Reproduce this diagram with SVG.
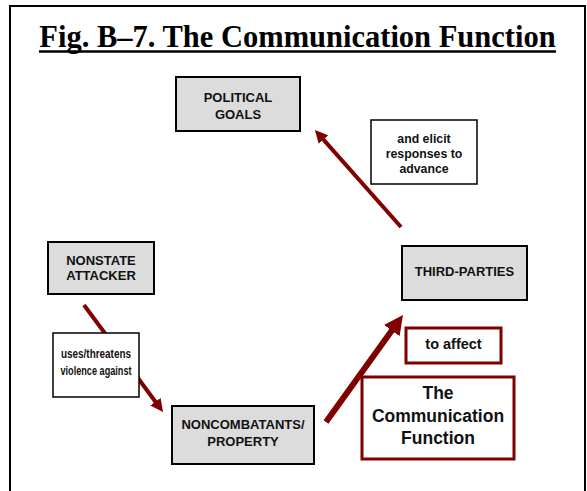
<svg xmlns="http://www.w3.org/2000/svg" width="587" height="491" viewBox="0 0 587 491">
<style>
.title{font-family:"Liberation Serif","Times New Roman",serif;font-weight:bold;font-size:30.5px;fill:#000}
.t{font-family:"Liberation Sans",Arial,sans-serif;font-weight:bold;font-size:13px;fill:#111;text-anchor:middle}
.lbl{font-family:"Liberation Sans",Arial,sans-serif;font-weight:bold;font-size:12.3px;fill:#111;text-anchor:middle}
.big{font-family:"Liberation Sans",Arial,sans-serif;font-weight:bold;font-size:17.5px;fill:#111;text-anchor:middle}
.node{fill:#dcdcdc;stroke:#000;stroke-width:2}
.lab{fill:#fff;stroke:#000;stroke-width:1.5}
.red{fill:#fff;stroke:#800000;stroke-width:3}
.conn{stroke:#800000;fill:none}
</style>
<defs>
<marker id="ah" viewBox="0 0 10 10" refX="1" refY="5" markerWidth="3.2" markerHeight="3.2" orient="auto">
<path d="M0,0 L10,5 L0,10 z" fill="#800000"/>
</marker>
</defs>
<rect x="0" y="0" width="587" height="491" fill="#fff"/>
<rect x="10" y="6" width="575" height="500" fill="none" stroke="#000" stroke-width="2"/>
<g id="title">
<text class="title" x="297.5" y="47" text-anchor="middle">Fig. B–7. The Communication Function</text>
<line x1="39" y1="51.5" x2="556" y2="51.5" stroke="#000" stroke-width="2.5"/>
</g>
<g id="connectors">
<line class="conn" x1="401" y1="227" x2="322.6" y2="138.6" stroke-width="4" marker-end="url(#ah)"/>
<line class="conn" x1="84" y1="305" x2="156.2" y2="402.7" stroke-width="4" marker-end="url(#ah)"/>
<line class="conn" x1="326" y1="422" x2="392.9" y2="329" stroke-width="6" marker-end="url(#ah)"/>
</g>
<g id="political-goals">
<rect class="node" x="176" y="77" width="124" height="54"/>
<text class="t" x="238" y="102">POLITICAL</text>
<text class="t" x="238" y="119">GOALS</text>
</g>
<g id="label-elicit">
<rect class="lab" x="371" y="120" width="106" height="64"/>
<text class="lbl" x="424" y="143">and elicit</text>
<text class="lbl" x="424" y="158">responses to</text>
<text class="lbl" x="424" y="173">advance</text>
</g>
<g id="nonstate-attacker">
<rect class="node" x="48" y="242" width="106" height="52"/>
<text class="t" x="101" y="265">NONSTATE</text>
<text class="t" x="101" y="280">ATTACKER</text>
</g>
<g id="third-parties">
<rect class="node" x="402" y="246" width="125" height="54"/>
<text class="t" x="464.5" y="276">THIRD-PARTIES</text>
</g>
<g id="label-uses">
<rect class="lab" x="53" y="333" width="86" height="64"/>
<text class="lbl" x="96" y="358" style="font-size:13px" textLength="70" lengthAdjust="spacingAndGlyphs">uses/threatens</text>
<text class="lbl" x="96" y="375" style="font-size:13px" textLength="71" lengthAdjust="spacingAndGlyphs">violence against</text>
</g>
<g id="noncombatants">
<rect class="node" x="172" y="406" width="142" height="58"/>
<text class="t" x="243" y="429">NONCOMBATANTS/</text>
<text class="t" x="243" y="446">PROPERTY</text>
</g>
<g id="label-affect">
<rect class="red" x="406" y="328" width="95" height="35"/>
<text class="lbl" x="453.5" y="349" style="font-size:14.5px">to affect</text>
</g>
<g id="communication-function">
<rect class="red" x="362" y="377" width="152" height="82" stroke-width="3.5"/>
<text class="big" x="438" y="399">The</text>
<text class="big" x="438" y="421.5">Communication</text>
<text class="big" x="438" y="444">Function</text>
</g>
</svg>
